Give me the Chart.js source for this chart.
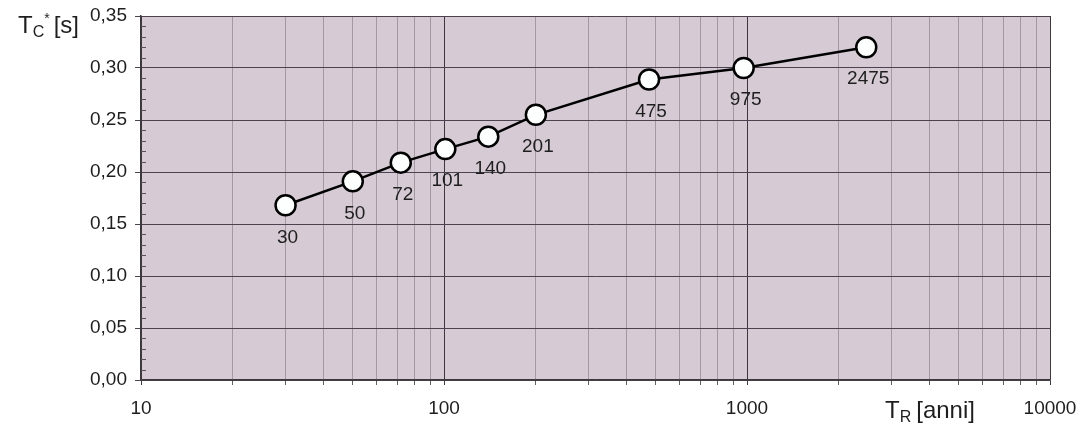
<!DOCTYPE html>
<html>
<head>
<meta charset="utf-8">
<script src="https://cdn.jsdelivr.net/npm/chart.js@4"></script>
<style>
  html, body { margin: 0; padding: 0; background: #fff; }
  #wrap { width: 1082px; height: 427px; }
</style>
</head>
<body>
<div id="wrap"><canvas id="tcChart" width="1082" height="427"></canvas></div>
<script>
// return period (years) vs corner period Tc*
const returnPeriods = [30, 50, 72, 101, 140, 201, 475, 975, 2475];
const tcValues = [0.168, 0.191, 0.209, 0.222, 0.234, 0.255, 0.289, 0.300, 0.320];
const pointLabels = ['30', '50', '72', '101', '140', '201', '475', '975', '2475'];
const xDecades = [10, 100, 1000, 10000];

const FONT = "'Liberation Sans', Arial, sans-serif";

// log-grid positions: 1..9 in each decade
const xGridValues = [];
for (let d = 0; d < xDecades.length - 1; d++) {
    for (let m = 1; m < 10; m++) xGridValues.push(xDecades[d] * m);
}
xGridValues.push(xDecades[xDecades.length - 1]);

const isDecade = v => xDecades.some(d => Math.abs(d - v) < 1e-6);
const isMajorY = v => Math.abs(Math.round(v * 100) % 5) === 0;

// keep the plot box where the layout padding puts it
function noLabelPadding(scale) {
    scale.paddingLeft = 0;
    scale.paddingRight = 0;
    scale.paddingTop = 0;
    scale.paddingBottom = 0;
}

const plotBg = {
    id: 'plotBg',
    beforeDraw(chart) {
        const { ctx, chartArea: a } = chart;
        ctx.save();
        ctx.fillStyle = '#d6cbd5';
        ctx.fillRect(a.left, a.top, a.right - a.left, a.bottom - a.top);
        ctx.restore();
    }
};

const extras = {
    id: 'extras',
    afterDraw(chart) {
        const { ctx, chartArea: a } = chart;
        const y = chart.scales.y;
        ctx.save();
        // small inner ticks on the value axis
        ctx.strokeStyle = '#5a505a';
        ctx.lineWidth = 1;
        for (let v = 0.01; v < 0.35; v += 0.01) {
            if (isMajorY(v)) continue;
            const py = Math.round(y.getPixelForValue(v)) + 0.5;
            ctx.beginPath();
            ctx.moveTo(a.left, py);
            ctx.lineTo(a.left + 5, py);
            ctx.stroke();
        }
        // point labels under the markers
        const meta = chart.getDatasetMeta(0);
        ctx.fillStyle = '#1e1e1e';
        ctx.font = '19px ' + FONT;
        ctx.textAlign = 'center';
        ctx.textBaseline = 'middle';
        meta.data.forEach((pt, i) => {
            ctx.fillText(pointLabels[i], pt.x + 2, pt.y + 32);
        });
        // axis titles
        ctx.textAlign = 'left';
        ctx.textBaseline = 'alphabetic';
        let tx = 18;
        let ty = a.top + 17;
        ctx.font = '24px ' + FONT;
        ctx.fillText('T', tx, ty);
        tx += ctx.measureText('T').width;
        ctx.font = '16px ' + FONT;
        ctx.fillText('C', tx, ty + 4);
        const cw = ctx.measureText('C').width;
        ctx.font = '14px ' + FONT;
        ctx.fillText('*', tx + cw, ty - 10);
        tx += cw + ctx.measureText('*').width + 4;
        ctx.font = '24px ' + FONT;
        ctx.fillText('[s]', tx, ty);

        let bx = 885;
        let by = a.bottom + 38;
        ctx.font = '24px ' + FONT;
        ctx.fillText('T', bx, by);
        bx += ctx.measureText('T').width;
        ctx.font = '16px ' + FONT;
        ctx.fillText('R', bx, by + 4);
        bx += ctx.measureText('R').width + 5;
        ctx.font = '24px ' + FONT;
        ctx.fillText('[anni]', bx, by);
        ctx.restore();
    }
};

new Chart(document.getElementById('tcChart').getContext('2d'), {
    type: 'line',
    data: {
        datasets: [{
            data: returnPeriods.map((t, i) => ({ x: t, y: tcValues[i] })),
            borderColor: '#000',
            borderWidth: 2.5,
            tension: 0,
            pointRadius: 10,
            pointHoverRadius: 10,
            pointBackgroundColor: '#fdfefe',
            pointBorderColor: '#000',
            pointBorderWidth: 2.5
        }]
    },
    options: {
        responsive: false,
        animation: false,
        events: [],
        layout: { padding: { top: 16, right: 32, left: 0, bottom: 0 } },
        plugins: { legend: { display: false }, tooltip: { enabled: false } },
        scales: {
            x: {
                type: 'logarithmic',
                min: 10,
                max: 10000,
                afterBuildTicks(scale) {
                    scale.ticks = xGridValues.map(v => ({ value: v }));
                },
                afterFit(scale) {
                    scale.height = 47;
                    noLabelPadding(scale);
                },
                ticks: {
                    autoSkip: false,
                    maxRotation: 0,
                    padding: 12,
                    color: '#1e1e1e',
                    font: { family: FONT, size: 19 },
                    callback: v => isDecade(v) ? String(Math.round(v)) : ''
                },
                grid: {
                    color: c => isDecade(c.tick.value) ? '#3c383c' : 'rgba(130,118,130,0.6)',
                    tickColor: c => isDecade(c.tick.value) ? '#3c383c' : 'rgba(60,56,60,0.8)',
                    tickLength: 5,
                    lineWidth: 1
                },
                border: { color: '#3c383c', width: 1.5 }
            },
            y: {
                min: 0,
                max: 0.35,
                afterFit(scale) {
                    scale.width = 141;
                    noLabelPadding(scale);
                },
                ticks: {
                    stepSize: 0.05,
                    padding: 8,
                    color: '#1e1e1e',
                    font: { family: FONT, size: 19 },
                    callback: v => v.toFixed(2).replace('.', ',')
                },
                grid: {
                    color: '#4b4350',
                    tickColor: '#4b4350',
                    tickLength: 6,
                    lineWidth: 1
                },
                border: { color: '#3c383c', width: 1.5 }
            }
        }
    },
    plugins: [plotBg, extras]
});
</script>
</body>
</html>
